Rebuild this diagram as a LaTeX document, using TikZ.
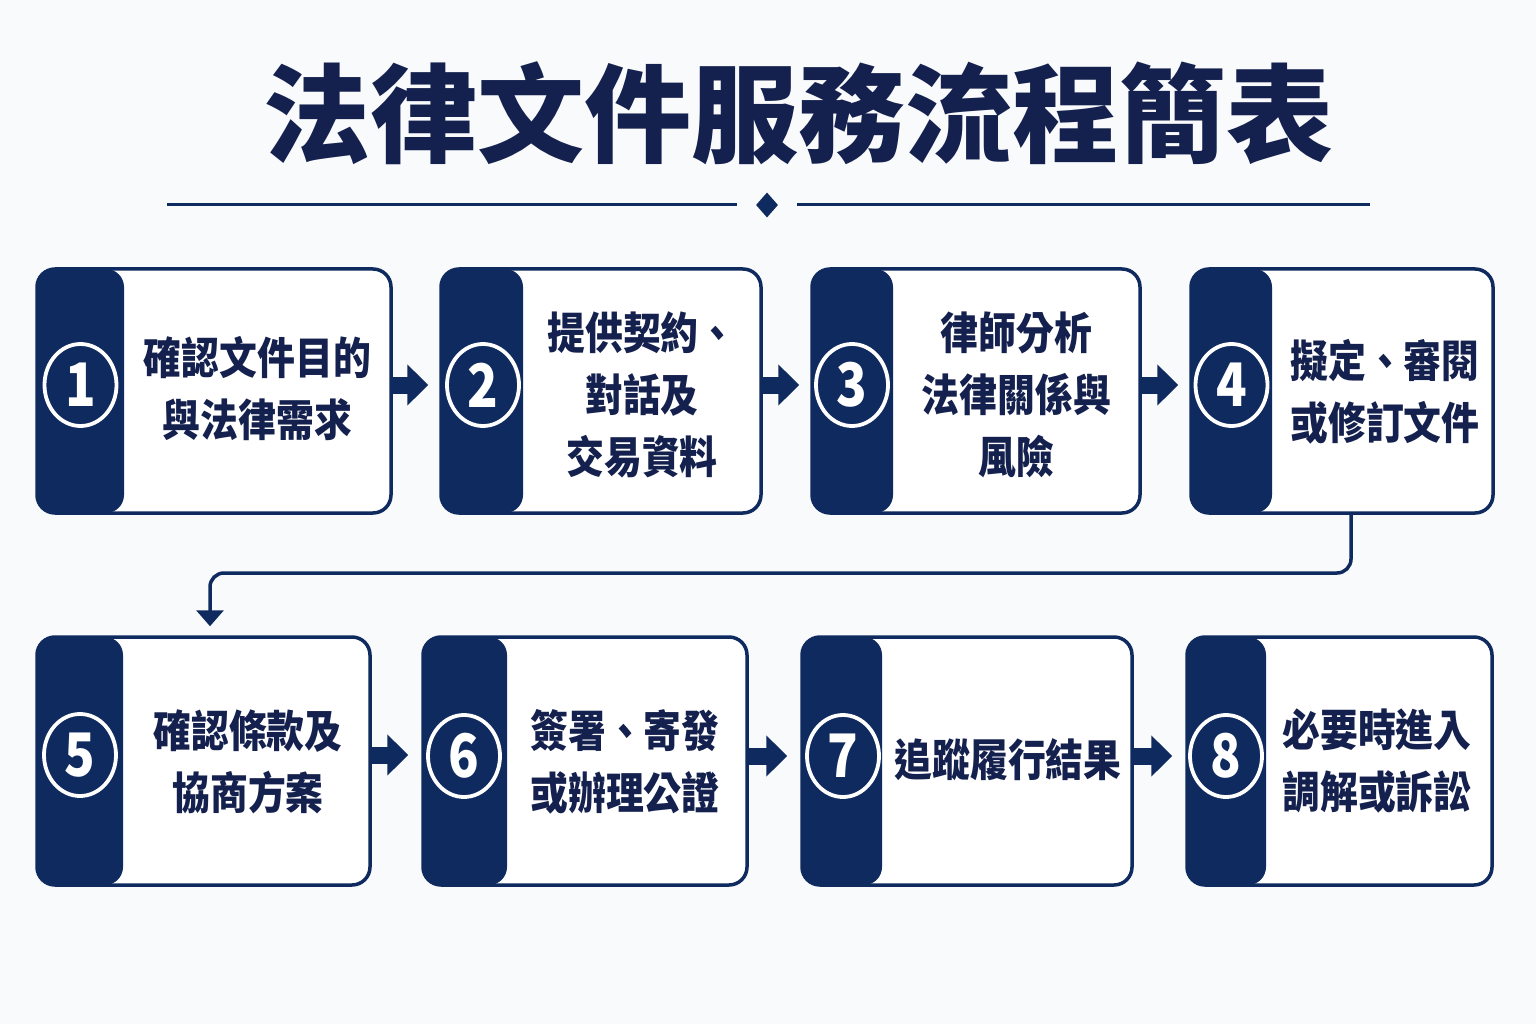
\documentclass[tikz,border=0pt]{standalone}
\usepackage{fontspec}
\usetikzlibrary{arrows.meta,shapes.geometric,calc}
\newfontfamily\cjkfont{Noto Sans CJK TC}
\newfontfamily\cjkcond{Noto Sans CJK TC}[FakeStretch=0.86]
\newfontfamily\digitfont{Noto Sans CJK TC}[FakeStretch=0.84]
\definecolor{navy}{HTML}{0F2A5E}
\definecolor{inknavy}{HTML}{14204D}
\definecolor{bg}{HTML}{F9FAFC}
\tikzset{
  stepbox/.style={draw=navy, line width=3.5pt, fill=white, rounded corners=18pt,
    inner sep=0pt, path picture={\fill[navy] (path picture bounding box.south west)
      rectangle ([xshift=#1]path picture bounding box.north west);}},
  numring/.style={ellipse, draw=white, line width=3.8pt, minimum width=72pt,
    minimum height=82pt, inner sep=0pt, text=white,
    font=\digitfont\bfseries\fontsize{60}{60}\selectfont},
  steptext/.style={align=center, text=inknavy, inner sep=0pt,
    font=\cjkcond\bfseries\fontsize{44}{62}\selectfont},
  blockarrow/.style={navy, line width=17pt, -{Triangle[width=40pt,length=21pt]},
    shorten >=11pt},
  conn/.style={navy, line width=3.5pt, rounded corners=14pt,
    -{Triangle[width=27pt,length=16pt]}, shorten >=9pt},
  rule/.style={navy, line width=3pt}
}
\begin{document}
\begin{tikzpicture}[x=1pt,y=-1pt]
\useasboundingbox[fill=bg] (0,0) rectangle (1536,1024);

% title
\node[text=inknavy, font=\cjkfont\bfseries\fontsize{107}{107}\selectfont, inner sep=0pt]
  (title) at (798,113) {法律文件服務流程簡表};

% divider
\node[diamond, fill=navy, minimum width=22pt, minimum height=25pt, inner sep=0pt]
  (dm) at (767,205) {};
\coordinate (la) at (167,205);
\coordinate (lb) at (737,205);
\coordinate (ra) at (797,205);
\coordinate (rb) at (1370,205);
\draw[rule] (la) -- (lb);
\draw[rule] (ra) -- (rb);

% row 1 boxes
\node[stepbox=87pt, minimum width=354pt, minimum height=244pt] (b1) at (214,391) {};
\node[stepbox=82pt, minimum width=320pt, minimum height=244pt] (b2) at (601,391) {};
\node[stepbox=81pt, minimum width=328pt, minimum height=244pt] (b3) at (976,391) {};
\node[stepbox=81pt, minimum width=302pt, minimum height=244pt] (b4) at (1342,391) {};
% row 2 boxes
\node[stepbox=86pt, minimum width=333pt, minimum height=248pt] (b5) at (203.5,761) {};
\node[stepbox=84pt, minimum width=324pt, minimum height=248pt] (b6) at (585,761) {};
\node[stepbox=80pt, minimum width=330pt, minimum height=248pt] (b7) at (967,761) {};
\node[stepbox=79pt, minimum width=305pt, minimum height=248pt] (b8) at (1339.5,761) {};

% number rings
\node[numring] (c1) at (80.5,385) {1};
\node[numring] (c2) at (483,385) {2};
\node[numring] (c3) at (852,385) {3};
\node[numring] (c4) at (1231.5,385) {4};
\node[numring] (c5) at (80,755) {5};
\node[numring] (c6) at (464,756) {6};
\node[numring] (c7) at (843,756) {7};
\node[numring] (c8) at (1226,756) {8};

% texts
\node[steptext] (t1) at (257.5,389) {確認文件目的\\與法律需求};
\node[steptext] (t2) at (642,394.5) {提供契約、\\對話及\\交易資料};
\node[steptext] (t3) at (1016.5,394.5) {律師分析\\法律關係與\\風險};
\node[steptext] (t4) at (1385,392) {擬定、審閱\\或修訂文件};
\node[steptext] (t5) at (248,762) {確認條款及\\協商方案};
\node[steptext] (t6) at (625,762) {簽署、寄發\\或辦理公證};
\node[steptext] (t7) at (1008,760) {追蹤履行結果};
\node[steptext] (t8) at (1377,761) {必要時進入\\調解或訴訟};

% arrows row 1
\draw[blockarrow] (b1.east |- c1) -- (b2.west |- c1);
\draw[blockarrow] (b2.east |- c2) -- (b3.west |- c2);
\draw[blockarrow] (b3.east |- c3) -- (b4.west |- c3);
% arrows row 2
\draw[blockarrow, shorten >=13pt] (b5.east |- c5) -- (b6.west |- c5);
\draw[blockarrow, shorten >=13pt] (b6.east |- c6) -- (b7.west |- c6);
\draw[blockarrow, shorten >=13pt] (b7.east |- c7) -- (b8.west |- c7);

% connector 4 -> 5
\coordinate (k1) at (1351,573);
\coordinate (k2) at (210,573);
\draw[conn] (b4.south -| k1) -- (k1) -- (k2) -- (b5.north -| k2);
\end{tikzpicture}
\end{document}
